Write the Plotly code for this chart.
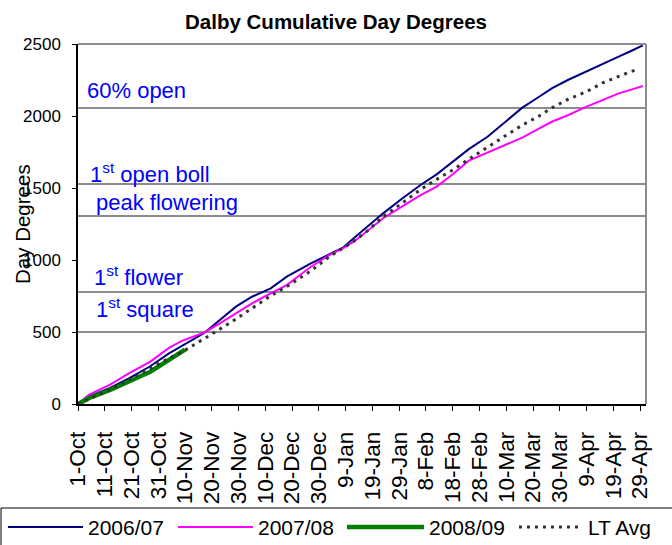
import datetime as _dt
import plotly.graph_objects as go

# ---------------- data ----------------
chart_title = "Dalby Cumulative Day Degrees"
y_title = "Day Degrees"

season_dates = [
    "2006-10-01", "2006-10-05", "2006-10-13", "2006-10-20", "2006-10-28",
    "2006-11-04", "2006-11-09", "2006-11-17", "2006-11-23", "2006-11-29",
    "2006-12-05", "2006-12-12", "2006-12-18", "2006-12-27", "2007-01-03",
    "2007-01-08", "2007-01-12", "2007-01-17", "2007-01-23", "2007-01-30",
    "2007-02-06", "2007-02-12", "2007-02-18", "2007-02-24", "2007-03-03",
    "2007-03-10", "2007-03-16", "2007-03-22", "2007-03-27", "2007-04-02",
    "2007-04-09", "2007-04-15", "2007-04-21", "2007-04-26", "2007-04-30",
]
dd_2006_07 = [
    0, 51, 112, 178, 262, 352, 405, 491, 583, 676,
    745, 803, 884, 977, 1040, 1085, 1151, 1231, 1324, 1425,
    1521, 1595, 1683, 1770, 1856, 1965, 2058, 2130, 2192, 2250,
    2308, 2362, 2412, 2455, 2490,
]
dd_2007_08 = [
    0, 63, 135, 213, 294, 390, 440, 495, 560, 630,
    699, 769, 826, 953, 1035, 1080, 1127, 1200, 1290, 1370,
    1451, 1510, 1595, 1690, 1745, 1800, 1850, 1910, 1960, 2005,
    2065, 2110, 2157, 2185, 2208,
]

lt_dates = [
    "2006-10-01", "2006-10-05", "2006-10-13", "2006-10-20", "2006-10-28",
    "2006-11-04", "2006-11-09", "2006-11-17", "2006-11-23", "2006-11-29",
    "2006-12-05", "2006-12-12", "2006-12-18", "2006-12-27", "2007-01-03",
    "2007-01-08", "2007-01-12", "2007-01-17", "2007-01-23", "2007-01-30",
    "2007-02-06", "2007-02-12", "2007-02-18", "2007-02-24", "2007-03-03",
    "2007-03-10", "2007-03-16", "2007-03-22", "2007-03-27", "2007-04-02",
    "2007-04-09", "2007-04-15", "2007-04-21", "2007-04-28",
]
dd_lt_avg = [
    0, 35, 100, 167, 248, 318, 362, 450, 520, 590,
    665, 752, 815, 925, 1024, 1080, 1130, 1200, 1301, 1394,
    1490, 1560, 1625, 1700, 1780, 1866, 1937, 1997, 2056, 2115,
    2169, 2230, 2275, 2325,
]

dates_2008_09 = ["2008-10-01", "2008-10-05", "2008-10-13", "2008-10-20",
                 "2008-10-28", "2008-11-04", "2008-11-10"]
dd_2008_09 = [0, 40, 97, 155, 224, 306, 378]

stage_names = ["1<sup>st</sup> square", "1<sup>st</sup> flower", "peak flowering",
               "1<sup>st</sup> open boll", "60% open"]
stage_levels = [500, 778, 1305, 1528, 2055]

tick_dates = [
    "2006-10-01", "2006-10-11", "2006-10-21", "2006-10-31", "2006-11-10",
    "2006-11-20", "2006-11-30", "2006-12-10", "2006-12-20", "2006-12-30",
    "2007-01-09", "2007-01-19", "2007-01-29", "2007-02-08", "2007-02-18",
    "2007-02-28", "2007-03-10", "2007-03-20", "2007-03-30", "2007-04-09",
    "2007-04-19", "2007-04-29",
]
tick_labels = [
    "1-Oct", "11-Oct", "21-Oct", "31-Oct", "10-Nov", "20-Nov", "30-Nov",
    "10-Dec", "20-Dec", "30-Dec", "9-Jan", "19-Jan", "29-Jan", "8-Feb",
    "18-Feb", "28-Feb", "10-Mar", "20-Mar", "30-Mar", "9-Apr", "19-Apr",
    "29-Apr",
]
x_start = "2006-10-01"
x_end = "2007-05-01 05:00"

series_names = ["2006/07", "2007/08", "2008/09", "LT Avg"]

# ---------------- styling ----------------
FONT = "Liberation Sans, Arial, sans-serif"
W, H = 672, 545
ML, MR, MT, MB = 78, 26, 44, 141
PW, PH = W - ML - MR, H - MT - MB


def px_x(px):
    return (px - ML) / PW


def px_y(py):
    return (H - MB - py) / PH


series_styles = [
    dict(color="#000080", width=2),
    dict(color="#ff00ff", width=2),
    dict(color="#008000", width=4.5),
    dict(color="#333333", width=3, dash="3px,5px"),
]
# legend geometry (pixels): line start, line end, text start
legend_slots = [(8, 83, 86), (178, 253, 256), (347, 424, 427), (519, 583, 586)]
legend_cy = 527
# stage label placement: (left px, yshift px)
stage_label_pos = [(94, 8), (92, 0), (94, -1), (88, -5), (85, 3)]


def align_season(d, years):
    dt = _dt.date.fromisoformat(d)
    return dt.replace(year=dt.year - years).isoformat()


dates_2008_09_aligned = [align_season(d, 2) for d in dates_2008_09]

fig = go.Figure()

for lvl in stage_levels:
    fig.add_trace(go.Scatter(
        x=[x_start, x_end], y=[lvl, lvl], mode="lines",
        line=dict(color="#8c8c8c", width=2), showlegend=False, hoverinfo="skip"))

series_x = [season_dates, season_dates, dates_2008_09_aligned, lt_dates]
series_y = [dd_2006_07, dd_2007_08, dd_2008_09, dd_lt_avg]
for name, xs, ys, st in zip(series_names, series_x, series_y, series_styles):
    fig.add_trace(go.Scatter(x=xs, y=ys, mode="lines", name=name,
                             line=st, showlegend=False))

for name, lvl, (px, ys) in zip(stage_names, stage_levels, stage_label_pos):
    fig.add_annotation(text=name, x=px_x(px), xref="paper", y=lvl, yref="y",
                       xanchor="left", yanchor="bottom", yshift=ys, showarrow=False,
                       font=dict(family=FONT, size=22, color="#0000ff"))

# y-axis title
fig.add_annotation(text=y_title, x=px_x(22), xref="paper", y=0.5, yref="paper",
                   textangle=-90, showarrow=False, xanchor="center", yanchor="middle",
                   font=dict(family=FONT, size=20.5, color="black"))

# plot-area border (top/right)
fig.add_shape(type="line", xref="paper", yref="paper", x0=0, x1=1, y0=1, y1=1,
              line=dict(color="#8c8c8c", width=2))
fig.add_shape(type="line", xref="paper", yref="paper", x0=1, x1=1, y0=0, y1=1,
              line=dict(color="#8c8c8c", width=2))

# legend box + entries
fig.add_shape(type="rect", xref="paper", yref="paper", x0=px_x(1), x1=px_x(700),
              y0=px_y(508), y1=px_y(560), line=dict(color="black", width=1),
              fillcolor="rgba(0,0,0,0)")
for name, st, (l0, l1, t0) in zip(series_names, series_styles, legend_slots):
    fig.add_shape(type="line", xref="paper", yref="paper",
                  x0=px_x(l0), x1=px_x(l1), y0=px_y(legend_cy), y1=px_y(legend_cy),
                  line=st)
    fig.add_annotation(text=name, x=px_x(t0), xref="paper", y=px_y(legend_cy),
                       yref="paper", xanchor="left", yanchor="middle", showarrow=False,
                       font=dict(family=FONT, size=21, color="black"))

fig.update_layout(
    width=W, height=H,
    margin=dict(l=ML, r=MR, t=MT, b=MB),
    paper_bgcolor="white", plot_bgcolor="white",
    font=dict(family=FONT, color="black"),
    title=dict(text="<b>" + chart_title + "</b>", x=0.5, xanchor="center",
               y=1 - 21.5 / H, yanchor="middle", font=dict(family=FONT, size=20.5)),
    showlegend=False,
)

fig.update_xaxes(type="date", range=[x_start, x_end], tickmode="array",
                 tickvals=tick_dates, ticktext=tick_labels, tickangle=-90,
                 ticks="outside", ticklen=5, tickcolor="black",
                 ticklabelstandoff=12,
                 showline=True, linecolor="black", linewidth=1.5,
                 showgrid=False, zeroline=False,
                 tickfont=dict(family=FONT, size=22.5))
fig.update_yaxes(range=[0, 2500], tickmode="array", tickvals=[0, 500, 1000, 1500, 2000, 2500],
                 ticks="outside", ticklen=4, tickcolor="black",
                 ticklabelstandoff=8,
                 showline=True, linecolor="black", linewidth=1.5,
                 showgrid=False, zeroline=False,
                 tickfont=dict(family=FONT, size=17))

fig.write_html("out.html", config={"displayModeBar": False},
               post_script="document.body.style.margin='0';document.body.style.padding='0';")
